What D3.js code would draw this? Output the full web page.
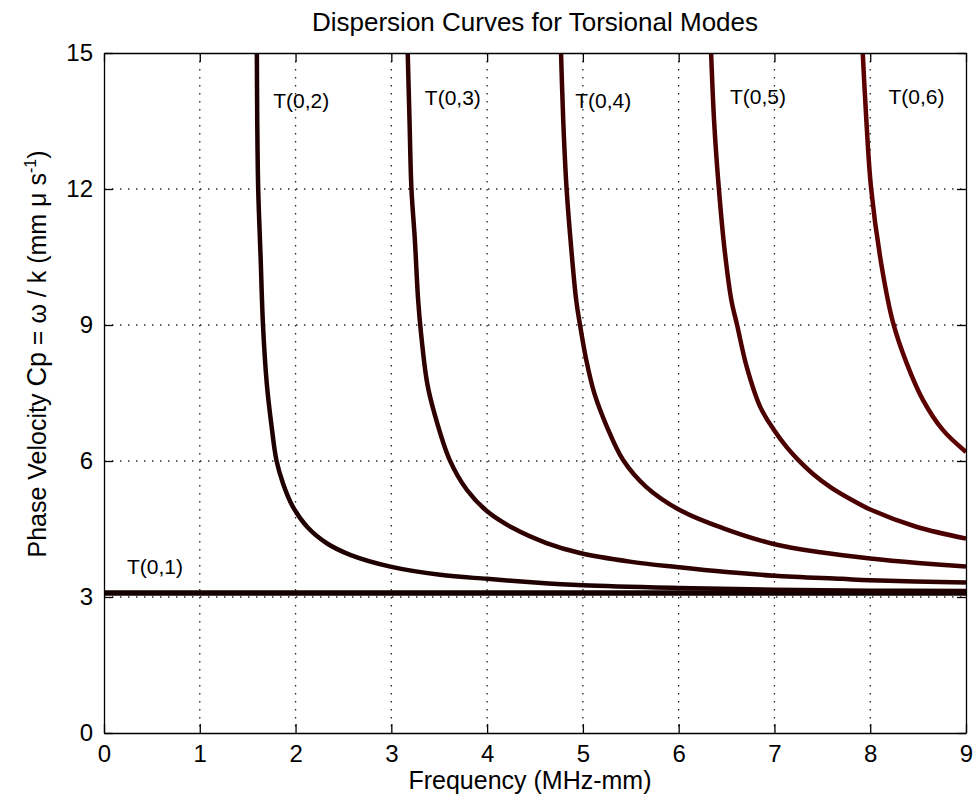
<!DOCTYPE html>
<html lang="en">
<head>
<meta charset="UTF-8">
<script src="https://d3js.org/d3.v7.min.js"></script>
<style>
  body { margin: 0; background: #fff; }
  svg { display: block; }
  text { font-family: "Liberation Sans", Arial, sans-serif; fill: #000; }
  .grid line { stroke: #222; stroke-width: 1.3; stroke-dasharray: 1.4 6.6; }
  .axis path, .axis line { stroke: #000; stroke-width: 1.3; }
  .mode { fill: none; stroke-linejoin: round; stroke-linecap: butt; }
</style>
</head>
<body>
<svg id="chart"></svg>
<script>
// ---- data ----
const xTicks = [0, 1, 2, 3, 4, 5, 6, 7, 8, 9];
const yTicks = [0, 3, 6, 9, 12, 15];

const modeNames = ["T(0,1)", "T(0,2)", "T(0,3)", "T(0,4)", "T(0,5)", "T(0,6)"];

const freqT01 = [0, 9];
const cpT01   = [3.09, 3.09];

const freqT02 = [1.595, 1.60, 1.61, 1.635, 1.66, 1.70, 1.75, 1.80, 1.87, 1.97, 2.12, 2.33, 2.57, 2.99, 3.51, 4.0, 4.5, 5.0, 6.0, 7.0, 8.0, 9.0];
const cpT02   = [15.5, 13.5, 12.0, 10.5, 9.0, 7.7, 6.76, 6.02, 5.5, 5.0, 4.55, 4.18, 3.93, 3.67, 3.49, 3.40, 3.32, 3.26, 3.20, 3.16, 3.14, 3.13];

const freqT03 = [3.165, 3.19, 3.21, 3.245, 3.28, 3.31, 3.375, 3.45, 3.61, 3.79, 4.0, 4.27, 4.62, 4.97, 5.49, 5.98, 6.5, 7.0, 7.7, 8.0, 9.0];
const cpT03   = [15.5, 13.5, 12.0, 10.9, 9.55, 8.82, 7.71, 7.05, 6.02, 5.36, 4.89, 4.52, 4.19, 3.97, 3.78, 3.66, 3.55, 3.47, 3.40, 3.37, 3.32];

const freqT04 = [4.765, 4.795, 4.83, 4.88, 4.93, 4.97, 5.035, 5.12, 5.25, 5.42, 5.66, 6.01, 6.46, 6.99, 7.5, 8.0, 8.5, 9.0];
const cpT04   = [15.5, 13.5, 12.0, 10.65, 9.55, 9.0, 8.23, 7.49, 6.76, 6.02, 5.43, 4.92, 4.52, 4.17, 3.98, 3.85, 3.75, 3.67];

const freqT05 = [6.33, 6.37, 6.42, 6.48, 6.55, 6.61, 6.71, 6.85, 6.99, 7.13, 7.25, 7.40, 7.58, 7.80, 8.0, 8.48, 9.0];
const cpT05   = [15.5, 13.5, 12.0, 10.65, 9.55, 9.0, 8.08, 7.2, 6.7, 6.3, 6.02, 5.72, 5.43, 5.15, 4.93, 4.55, 4.29];

const freqT06 = [7.91, 7.96, 8.01, 8.12, 8.24, 8.38, 8.55, 8.76, 9.0];
const cpT06   = [15.5, 13.5, 12.0, 10.29, 9.04, 8.16, 7.35, 6.68, 6.2];

const modeColors = ["#150000", "#1f0000", "#2e0000", "#3c0000", "#4c0000", "#5c0000"];

// ---- layout ----
const svgWidth = 973, svgHeight = 806;
const margin = { top: 53, right: 7, bottom: 73, left: 104 };
const width = svgWidth - margin.left - margin.right;
const height = svgHeight - margin.top - margin.bottom;

const svg = d3.select("#chart").attr("width", svgWidth).attr("height", svgHeight);
const chart = svg.append("g").attr("transform", `translate(${margin.left},${margin.top})`);

const xScale = d3.scaleLinear().domain([0, 9]).range([0, width]);
const yScale = d3.scaleLinear().domain([0, 15]).range([height, 0]);

svg.append("defs").append("clipPath").attr("id", "plotClip")
  .append("rect").attr("width", width).attr("height", height);

// dotted grid
chart.append("g").attr("class", "grid")
  .selectAll("line").data(xTicks.slice(1, -1)).enter().append("line")
  .attr("x1", d => xScale(d)).attr("x2", d => xScale(d))
  .attr("y1", 0).attr("y2", height);
chart.append("g").attr("class", "grid")
  .selectAll("line").data(yTicks.slice(1, -1)).enter().append("line")
  .attr("y1", d => yScale(d)).attr("y2", d => yScale(d))
  .attr("x1", 0).attr("x2", width);

// curves
const series = [
  [freqT01, cpT01], [freqT02, cpT02], [freqT03, cpT03],
  [freqT04, cpT04], [freqT05, cpT05], [freqT06, cpT06]
];
const line = d3.line()
  .x(d => xScale(d[0]))
  .y(d => yScale(d[1]))
  .curve(d3.curveCatmullRom.alpha(0.5));

chart.append("g").attr("clip-path", "url(#plotClip)")
  .selectAll("path").data(series).enter().append("path")
  .attr("class", "mode")
  .attr("stroke", (d, i) => modeColors[i])
  .attr("stroke-width", (d, i) => i === 0 ? 5.5 : 4.5)
  .attr("d", d => line(d[0].map((f, j) => [f, d[1][j]])));

// axes with inward ticks on all four sides
const tick = 9;
chart.append("g").attr("class", "axis")
  .attr("transform", `translate(0,${height})`)
  .call(d3.axisBottom(xScale).tickValues(xTicks).tickSizeInner(-tick).tickSizeOuter(0).tickPadding(12))
  .call(g => g.selectAll("text").attr("font-size", 24));
chart.append("g").attr("class", "axis")
  .call(d3.axisTop(xScale).tickValues(xTicks).tickSizeInner(-tick).tickSizeOuter(0).tickFormat(""));
chart.append("g").attr("class", "axis")
  .call(d3.axisLeft(yScale).tickValues(yTicks).tickSizeInner(-tick).tickSizeOuter(0).tickPadding(11))
  .call(g => g.selectAll("text").attr("font-size", 24));
chart.append("g").attr("class", "axis")
  .attr("transform", `translate(${width},0)`)
  .call(d3.axisRight(yScale).tickValues(yTicks).tickSizeInner(-tick).tickSizeOuter(0).tickFormat(""));
chart.selectAll(".axis text").attr("font-family", null).attr("fill", "#000");

// mode labels (data coordinates of text start / baseline)
const labelAt = [[0.24, 3.51], [1.767, 13.79], [3.35, 13.86], [4.92, 13.78], [6.535, 13.88], [8.19, 13.88]];
chart.selectAll(".modeLabel").data(modeNames).enter().append("text")
  .attr("class", "modeLabel")
  .attr("x", (d, i) => xScale(labelAt[i][0]))
  .attr("y", (d, i) => yScale(labelAt[i][1]))
  .attr("font-size", 21)
  .text(d => d);

// title and axis labels
svg.append("text")
  .attr("x", margin.left + width / 2).attr("y", 31)
  .attr("text-anchor", "middle").attr("font-size", 26)
  .text("Dispersion Curves for Torsional Modes");

svg.append("text")
  .attr("x", 530).attr("y", 789)
  .attr("text-anchor", "middle").attr("font-size", 25)
  .text("Frequency (MHz-mm)");

const yLabel = svg.append("text")
  .attr("transform", "translate(46,354) rotate(-90)")
  .attr("text-anchor", "middle").attr("font-size", 25);
yLabel.append("tspan").text("Phase Velocity  ");
yLabel.append("tspan").attr("font-size", 27).text("Cp");
yLabel.append("tspan").text(" = \u03c9 / k (mm \u03bc s");
yLabel.append("tspan").attr("font-size", 16).attr("dy", -10).text("-1");
yLabel.append("tspan").attr("dy", 10).text(")");
</script>
</body>
</html>
